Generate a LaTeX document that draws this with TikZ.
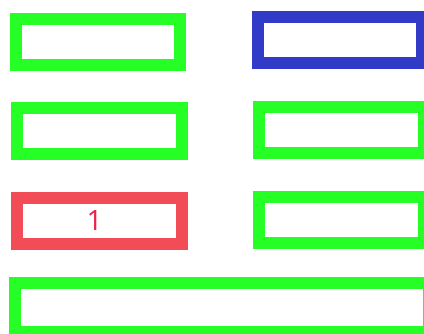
\documentclass[tikz,border=0pt]{standalone}
\usepackage{fontspec}
\setsansfont{Open Sans}
\definecolor{boxgreen}{RGB}{38,255,38}
\definecolor{boxblue}{RGB}{50,58,200}
\definecolor{boxred}{RGB}{242,76,86}
\definecolor{digitred}{RGB}{236,32,72}
\begin{document}
\begin{tikzpicture}[x=1pt,y=-1pt,
    slot/.style={draw=boxgreen, line width=12pt, minimum width=164.5pt, minimum height=46pt, inner sep=0pt}]
    \useasboundingbox (0,0) rectangle (424,333);
    \clip (0,0) rectangle (424,333);
    \node[slot] (topleft) at (97.75,41.5) {};
    \node[slot, draw=boxblue] (topright) at (340.1,40) {};
    \node[slot] (midleft) at (99.25,131) {};
    \node[slot] (midright) at (341.6,130) {};
    \node[slot, draw=boxred, text=digitred, font=\sffamily\fontsize{28}{30}\selectfont] (lowleft) at (99.25,221) {\hspace*{-9pt}1};
    \node[slot] (lowright) at (341.6,220) {};
    \node[slot, minimum width=414pt, minimum height=49.5pt] (bottom) at (222,307.25) {};
\end{tikzpicture}
\end{document}
